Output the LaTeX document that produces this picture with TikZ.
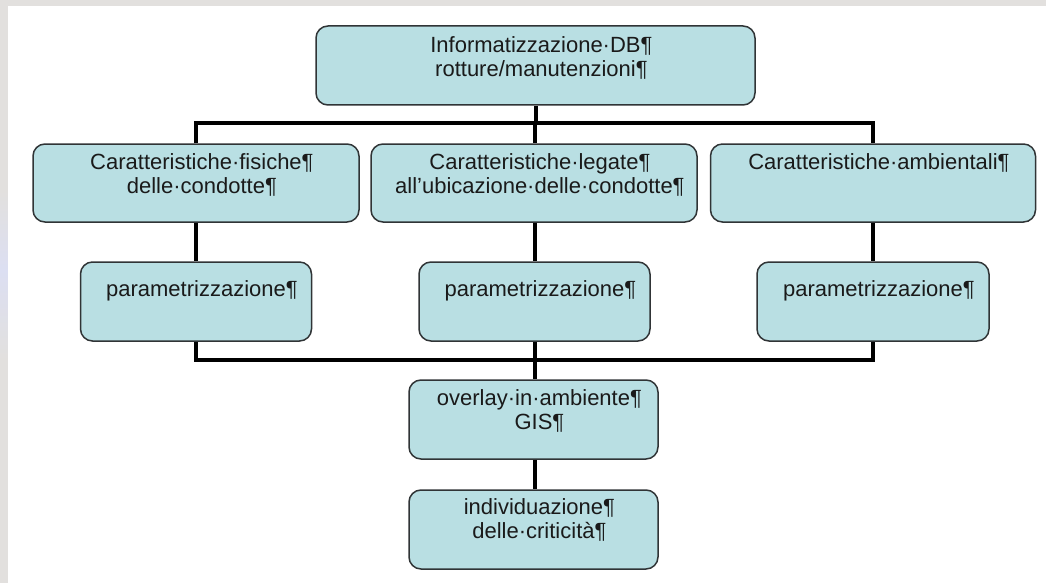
\documentclass[tikz,border=0pt]{standalone}
\usepackage{fontspec}
\setmainfont{Liberation Sans}
\definecolor{boxfill}{HTML}{B9DFE3}
\definecolor{boxline}{HTML}{303436}
\definecolor{txt}{HTML}{1A1A1A}
\definecolor{pagegray}{HTML}{E2E0DE}
\definecolor{pageblue}{HTML}{DCDFF2}
\newcommand\pil{\rlap{¶}}
\tikzset{
  box/.style={draw=boxline, line width=1.5pt, fill=boxfill, rounded corners=12pt, inner sep=0pt},
  lbl/.style={anchor=north, inner sep=0pt, align=center, text=txt, font=\fontsize{22}{24}\selectfont},
  conn/.style={line width=4pt, draw=black, line join=miter}
}
\begin{document}
\begin{tikzpicture}[x=1pt, y=-1pt]
  % page background
  \useasboundingbox (0,0) rectangle (1046,583);
  \fill[pagegray] (0,0) rectangle (1046,583);
  \shade[top color=pagegray, bottom color=pageblue] (0,190) rectangle (8,270);
  \shade[top color=pageblue, bottom color=pagegray] (0,270) rectangle (8,360);
  \fill[white] (8,6) rectangle (1046,583);

  % boxes
  \node[box, minimum width=439pt, minimum height=79pt] (top) at (535.5,65.5) {};
  \node[box, minimum width=326pt, minimum height=78pt] (r2a) at (196,183) {};
  \node[box, minimum width=326pt, minimum height=78pt] (r2b) at (534,183) {};
  \node[box, minimum width=325pt, minimum height=78pt] (r2c) at (873,183) {};
  \node[box, minimum width=231pt, minimum height=79pt] (r3a) at (196,301.5) {};
  \node[box, minimum width=231pt, minimum height=79pt] (r3b) at (534.5,301.5) {};
  \node[box, minimum width=232pt, minimum height=79pt] (r3c) at (873,301.5) {};
  \node[box, minimum width=249pt, minimum height=79pt] (gis) at (533.5,419.5) {};
  \node[box, minimum width=249pt, minimum height=79pt] (last) at (533.5,529.5) {};

  % texts
  \node[lbl] (ttop) at ([yshift=-10.2pt]top.north) {\strut Informatizzazione·DB\pil\\\strut rotture/manutenzioni\pil};
  \node[lbl] (tr2a) at ([yshift=-9pt]r2a.north) {\strut Caratteristiche·fisiche\pil\\\strut delle·condotte\pil};
  \node[lbl] (tr2b) at ([yshift=-9pt]r2b.north) {\strut Caratteristiche·legate\pil\\\strut all’ubicazione·delle·condotte\pil};
  \node[lbl] (tr2c) at ([yshift=-9pt]r2c.north) {\strut Caratteristiche·ambientali\pil};
  \node[lbl] (tr3a) at ([yshift=-18pt]r3a.north) {\strut parametrizzazione\pil};
  \node[lbl] (tr3b) at ([yshift=-18pt]r3b.north) {\strut parametrizzazione\pil};
  \node[lbl] (tr3c) at ([yshift=-18pt]r3c.north) {\strut parametrizzazione\pil};
  \node[lbl] (tgis) at ([yshift=-9pt]gis.north) {\strut overlay·in·ambiente\pil\\\strut GIS\pil};
  \node[lbl] (tlast) at ([yshift=-8pt]last.north) {\strut individuazione\pil\\\strut delle·criticità\pil};

  % connectors
  \coordinate (bus1) at (535,123);
  \coordinate (bus2) at (535,360);
  \draw[conn] (top.south) -- (top.south |- bus1);
  \draw[conn] (r2a.north) |- (bus1) -| (r2c.north);
  \draw[conn] (bus1) -- (bus1 |- r2b.north);
  \draw[conn] (r2a.south) -- (r3a.north);
  \draw[conn] (bus1 |- r2b.south) -- (bus1 |- r3b.north);
  \draw[conn] (r2c.south) -- (r3c.north);
  \draw[conn] (r3a.south) |- (bus2) -| (r3c.south);
  \draw[conn] (bus2 |- r3b.south) -- (bus2) -- (bus2 |- gis.north);
  \draw[conn] (bus2 |- gis.south) -- (bus2 |- last.north);
\end{tikzpicture}
\end{document}
